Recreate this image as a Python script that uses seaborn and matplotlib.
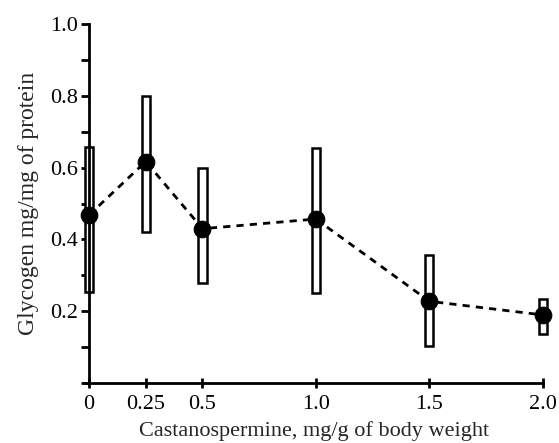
import pandas as pd
import seaborn as sns
import matplotlib.pyplot as plt
from matplotlib.ticker import MultipleLocator

# dose of castanospermine (mg/g body weight) and glycogen readings
dose = [0, 0.25, 0.5, 1.0, 1.5, 2.0]
glycogen_mean = [0.468, 0.617, 0.430, 0.457, 0.228, 0.190]
range_low = [0.253, 0.420, 0.279, 0.250, 0.103, 0.136]
range_high = [0.657, 0.800, 0.599, 0.655, 0.357, 0.234]

df = pd.DataFrame({'dose': dose, 'mean': glycogen_mean,
                   'low': range_low, 'high': range_high})

sns.set_style('ticks')
plt.rcParams['font.family'] = ['Liberation Serif', 'DejaVu Serif']

fig = plt.figure(figsize=(5.59, 4.43), dpi=100)
ax = fig.add_axes([0.152, 0.135, 0.819, 0.811])

# open boxes showing the spread
bars = ax.bar(df['dose'], df['high'] - df['low'], bottom=df['low'], width=0.036,
              color='white', edgecolor='black', linewidth=1.8, zorder=2)
for b in bars:
    b.set_clip_on(False)

# dashed line through the means
sns.lineplot(data=df, x='dose', y='mean', ax=ax, color='black',
             linestyle=(0, (2.6, 2.2)), linewidth=2.0, marker='o',
             markersize=12, markeredgecolor='black', zorder=3, clip_on=False)

ax.set_xlim(-0.018, 2.0)
ax.set_ylim(0, 1.0)
ax.spines['left'].set_position(('data', 0))
ax.spines['left'].set_bounds(0, 1.0)
ax.spines['right'].set_visible(False)
ax.spines['top'].set_visible(False)
for s in ('left', 'bottom'):
    ax.spines[s].set_linewidth(2.0)
    ax.spines[s].set_color('black')

ax.set_xticks(dose)
ax.set_xticklabels(['0', '0.25', '0.5', '1.0', '1.5', '2.0'])
ax.set_yticks([0.2, 0.4, 0.6, 0.8, 1.0])
ax.set_yticklabels(['0.2', '0.4', '0.6', '0.8', '1.0'])
ax.yaxis.set_minor_locator(MultipleLocator(0.1))
ax.tick_params(axis='y', which='both', direction='out', length=6, width=2.0,
               labelsize=16, pad=2, colors='black')
ax.tick_params(axis='x', direction='inout', length=7, width=2.0,
               labelsize=16, pad=5, colors='black')

ax.set_xlabel('Castanospermine, mg/g of body weight', fontsize=16, labelpad=5)
ax.set_ylabel('Glycogen mg/mg of protein', fontsize=17, labelpad=8)

plt.savefig('out.png', dpi=100)
